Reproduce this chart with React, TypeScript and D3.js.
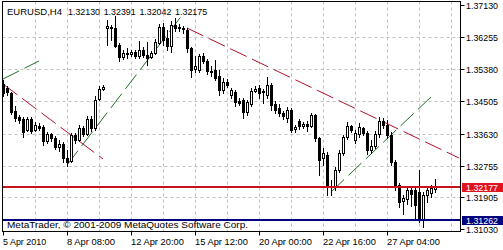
import React from "react";
import * as d3 from "d3";

const opens = [1.34978,1.34870,1.34733,1.34243,1.34080,1.34025,1.33726,1.34025,1.33726,1.33835,1.33807,1.33426,1.33617,1.33508,1.33263,1.33344,1.32963,1.32882,1.33590,1.33453,1.33780,1.33617,1.34025,1.33780,1.34570,1.34842,1.36503,1.36503,1.36503,1.36041,1.35714,1.35823,1.35795,1.35850,1.35741,1.35904,1.35768,1.35714,1.35823,1.36095,1.36531,1.36231,1.36013,1.36585,1.36531,1.36503,1.36449,1.35959,1.35387,1.35360,1.35741,1.35605,1.35333,1.35360,1.35196,1.34815,1.35033,1.34679,1.34761,1.34515,1.34543,1.34216,1.34434,1.34788,1.34870,1.34788,1.34679,1.34951,1.34434,1.34325,1.34189,1.34053,1.34270,1.33753,1.33971,1.33835,1.33889,1.33835,1.34134,1.33508,1.32963,1.33045,1.32173,1.32201,1.32636,1.33099,1.33535,1.33835,1.33453,1.33617,1.33780,1.33644,1.33181,1.33290,1.33617,1.33971,1.33862,1.33590,1.32854,1.32228,1.31792,1.31847,1.32092,1.32092,1.32037,1.31302,1.31956,1.32010,1.32130];
const highs = [1.35087,1.34924,1.34761,1.34379,1.34134,1.34080,1.34080,1.34080,1.33944,1.33916,1.33862,1.33671,1.33644,1.33562,1.33453,1.33399,1.33181,1.33644,1.33644,1.33862,1.33835,1.34107,1.34107,1.34652,1.34924,1.34951,1.36721,1.36585,1.36830,1.36095,1.35904,1.35959,1.35904,1.35904,1.36149,1.35986,1.36122,1.35877,1.36204,1.36612,1.36640,1.36449,1.36694,1.36776,1.36612,1.36558,1.36503,1.35986,1.35741,1.35795,1.35823,1.35659,1.35469,1.35632,1.35360,1.35142,1.35115,1.34870,1.34815,1.34597,1.34597,1.34543,1.34870,1.34924,1.34951,1.34842,1.35169,1.35006,1.34515,1.34434,1.34243,1.34352,1.34325,1.33862,1.34025,1.33944,1.33971,1.34189,1.34161,1.33535,1.33236,1.33127,1.32364,1.32718,1.33181,1.33590,1.33944,1.33862,1.33726,1.33916,1.33807,1.33698,1.33453,1.33698,1.34080,1.34053,1.33998,1.33671,1.32909,1.32282,1.31956,1.32173,1.32173,1.32146,1.32636,1.32037,1.32201,1.32228,1.32391];
const lows = [1.34652,1.34679,1.34161,1.33971,1.33916,1.33535,1.33698,1.33644,1.33698,1.33726,1.33317,1.33372,1.33426,1.33208,1.33154,1.32854,1.32745,1.32854,1.33372,1.33426,1.33562,1.33590,1.33698,1.33726,1.34543,1.34815,1.36041,1.36177,1.35986,1.35605,1.35659,1.35687,1.35741,1.35687,1.35687,1.35714,1.35496,1.35687,1.35795,1.36068,1.36041,1.35904,1.35850,1.36422,1.36422,1.36367,1.35850,1.35169,1.35305,1.35305,1.35550,1.35251,1.35196,1.35087,1.34679,1.34733,1.34897,1.34597,1.34379,1.34407,1.34053,1.34134,1.34379,1.34761,1.34597,1.34461,1.34597,1.34270,1.34189,1.34107,1.34025,1.33944,1.33671,1.33671,1.33753,1.33780,1.33698,1.33807,1.33426,1.32500,1.32773,1.31956,1.31956,1.32092,1.32582,1.33045,1.33481,1.33671,1.33372,1.33535,1.33590,1.33072,1.33099,1.33236,1.33535,1.33780,1.33508,1.32773,1.32092,1.31629,1.31438,1.31711,1.31656,1.31329,1.31220,1.31084,1.31765,1.31901,1.32042];
const closes = [1.34733,1.34761,1.34216,1.34053,1.33998,1.33671,1.34025,1.33698,1.33862,1.33780,1.33426,1.33617,1.33508,1.33263,1.33344,1.32963,1.32854,1.33590,1.33453,1.33780,1.33617,1.34025,1.33780,1.34543,1.34842,1.34897,1.36558,1.36531,1.36013,1.35714,1.35823,1.35795,1.35850,1.35741,1.35904,1.35768,1.35687,1.35823,1.36122,1.36531,1.36177,1.36013,1.36585,1.36503,1.36503,1.36476,1.35959,1.35360,1.35469,1.35741,1.35605,1.35333,1.35305,1.35142,1.34815,1.35033,1.34951,1.34815,1.34488,1.34461,1.34216,1.34488,1.34788,1.34842,1.34733,1.34761,1.34951,1.34407,1.34270,1.34189,1.34107,1.34270,1.33726,1.33807,1.33835,1.33889,1.33835,1.34134,1.33508,1.32909,1.33099,1.32173,1.32201,1.32636,1.33099,1.33535,1.33835,1.33726,1.33644,1.33807,1.33644,1.33181,1.33290,1.33617,1.33971,1.33862,1.33590,1.32854,1.32228,1.31765,1.31874,1.32092,1.31983,1.31683,1.31329,1.31956,1.32092,1.32146,1.32175];

const priceTicks = [1.3713, 1.36255, 1.3538, 1.34505, 1.3363, 1.32755, 1.31905, 1.3103];
const timeTickBars = [0, 16, 32, 48, 64, 80, 96];
const timeTickLabels = ["5 Apr 2010", "8 Apr 08:00", "12 Apr 20:00", "15 Apr 12:00", "20 Apr 00:00", "22 Apr 16:00", "27 Apr 04:00"];
const gridBars = [8, 16, 24, 32, 40, 48, 56, 64, 72, 80, 88, 96, 104, 112];

// trend lines: [bar1, price1, bar2, price2]
const greenLines = [
  [0, 1.35115, 9, 1.35605],
  [16, 1.32773, 45, 1.36885],
  [82, 1.32037, 107, 1.34625],
];
const redLines = [
  [0, 1.34978, 25, 1.32936],
  [46, 1.36503, 114, 1.32963],
];
const redLevel = 1.32177;
const blueLevel = 1.31262;
const symbolText = "EURUSD,H4";
const lastOHLC = ["1.32130", "1.32391", "1.32042", "1.32175"];
const copyright = "MetaTrader, \u00a9 2001-2009 MetaQuotes Software Corp.";

const FONT = "'Liberation Sans', Arial, sans-serif";
const FS = 9.5;

function fitWidth(s: string) {
  return s.length * 4.82;
}

export default function App() {
  const W = 503, H = 250;
  const left = 2.5, right = 460.5, top = 1.5, bottom = 231.5;
  const x = d3.scaleLinear().domain([0, 114.5]).range([3, 461]);
  const y = d3.scaleLinear().domain([1.3103, 1.3713]).range([229, 5]);

  const candles = opens.map((o, i) => {
    const h = highs[i], l = lows[i], c = closes[i];
    const cx = Math.round(x(i));
    const yTop = Math.round(y(Math.max(o, c)));
    const yBot = Math.round(y(Math.min(o, c)));
    const bull = c > o;
    return (
      <g key={i}>
        <line x1={cx + 0.5} x2={cx + 0.5} y1={Math.round(y(h))} y2={Math.round(y(l)) + 1} stroke="#000" strokeWidth={1} />
        {bull ? (
          <rect x={cx - 0.5} y={yTop + 0.5} width={2} height={Math.max(0, yBot - yTop)} fill="#fff" stroke="#000" strokeWidth={1} />
        ) : (
          <rect x={cx - 1} y={yTop} width={3} height={Math.max(1, yBot - yTop + 1)} fill="#000" />
        )}
      </g>
    );
  });

  const redY = Math.round(y(redLevel));
  const blueY = Math.round(y(blueLevel));
  const numW = 32;

  const T = (props: any) => (
    <text fontSize={FS} fill="#000" lengthAdjust="spacingAndGlyphs" {...props} />
  );

  return (
    <div style={{ position: "fixed", left: 0, top: 0, width: W, height: H, background: "#fff" }}>
      <svg width={W} height={H} style={{ display: "block" }} fontFamily={FONT}>
        <rect x={0} y={0} width={W} height={H} fill="#fff" />
        <defs>
          <clipPath id="plot">
            <rect x={left} y={top} width={right - left} height={bottom - top} />
          </clipPath>
        </defs>
        <g stroke="#c0c0c0" strokeWidth={1} strokeDasharray="3,3">
          {gridBars.map((b) => (
            <line key={"v" + b} x1={Math.round(x(b)) + 0.5} x2={Math.round(x(b)) + 0.5} y1={top} y2={bottom} />
          ))}
          {priceTicks.slice(1, -1).map((p) => (
            <line key={"h" + p} x1={left} x2={right} y1={Math.round(y(p)) + 0.5} y2={Math.round(y(p)) + 0.5} />
          ))}
        </g>
        <g clipPath="url(#plot)">
          {greenLines.map((t, k) => (
            <line key={"g" + k} x1={x(t[0])} y1={y(t[1])} x2={x(t[2])} y2={y(t[3])} stroke="#1f6e1f" strokeWidth={1} strokeDasharray="18,6" />
          ))}
          {redLines.map((t, k) => (
            <line key={"r" + k} x1={x(t[0])} y1={y(t[1])} x2={x(t[2])} y2={y(t[3])} stroke="#b0102c" strokeWidth={1} strokeDasharray="18,6" />
          ))}
          {candles}
          <T x={7} y={228} textLength={241}>{copyright}</T>
          <line x1={left} x2={right} y1={redY} y2={redY} stroke="#c8141e" strokeWidth={2} />
          <line x1={left} x2={right} y1={blueY} y2={blueY} stroke="#000080" strokeWidth={2} />
        </g>
        <T x={7} y={14.5} textLength={55}>{symbolText}</T>
        {lastOHLC.map((s, k) => (
          <T key={"o" + k} x={68 + k * 35.7} y={14.5} textLength={numW}>{s}</T>
        ))}
        <rect x={left} y={top} width={right - left} height={bottom - top} fill="none" stroke="#000" strokeWidth={1} />
        {priceTicks.map((p) => {
          const py = Math.round(y(p));
          return (
            <g key={"pt" + p}>
              <line x1={right} x2={right + 4} y1={py + 0.5} y2={py + 0.5} stroke="#000" />
              <T x={466} y={py + 1} dy="0.36em" textLength={numW}>{p.toFixed(5)}</T>
            </g>
          );
        })}
        <rect x={462} y={redY - 4} width={41} height={9} fill="#e0141e" />
        <T x={466} y={redY + 0.5} dy="0.36em" textLength={numW} fill="#fff">{redLevel.toFixed(5)}</T>
        <rect x={462} y={blueY - 4} width={41} height={9} fill="#000080" />
        <T x={466} y={blueY + 0.5} dy="0.36em" textLength={numW} fill="#fff">{blueLevel.toFixed(5)}</T>
        {timeTickBars.map((b, k) => {
          const tx = Math.round(x(b));
          return (
            <g key={"tt" + b}>
              <line x1={tx + 0.5} x2={tx + 0.5} y1={bottom} y2={bottom + 4} stroke="#000" />
              <T x={tx} y={245} textLength={fitWidth(timeTickLabels[k]) - 5}>{timeTickLabels[k]}</T>
            </g>
          );
        })}
      </svg>
    </div>
  );
}
